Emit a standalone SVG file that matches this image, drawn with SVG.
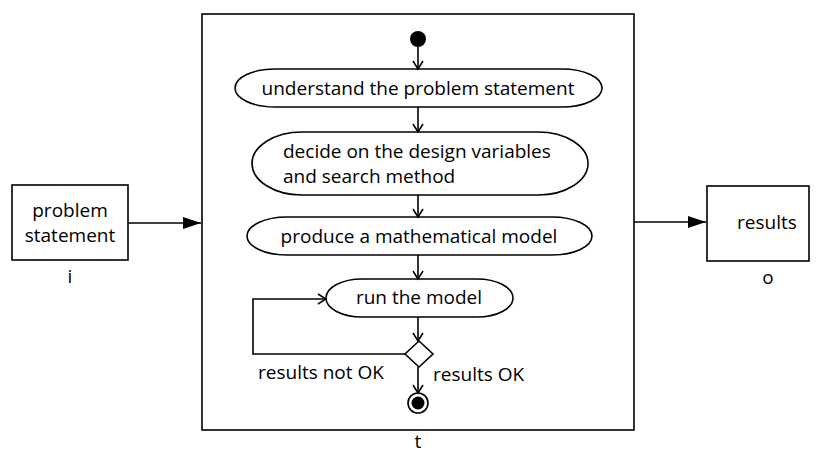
<svg xmlns="http://www.w3.org/2000/svg" width="816" height="456" viewBox="0 0 816 456">
<style>
text{font-family:"Open Sans","Liberation Sans",Arial,sans-serif;font-size:19px;fill:#000}
.c{text-anchor:middle}
.box{fill:#fff;stroke:#000;stroke-width:1.6}
.act{fill:#fff;stroke:#000;stroke-width:1.6}
.ln{fill:none;stroke:#000;stroke-width:1.6}
</style>
<defs>
<marker id="open" markerWidth="12" markerHeight="12" refX="10" refY="6" orient="auto" markerUnits="userSpaceOnUse">
<path d="M2,1 L10,6 L2,11" fill="none" stroke="#000" stroke-width="1.5"/>
</marker>
<marker id="solid" markerWidth="20" markerHeight="14" refX="18" refY="7" orient="auto" markerUnits="userSpaceOnUse">
<path d="M0,1 L18,7 L0,13 Z" fill="#000"/>
</marker>
</defs>
<g id="main">
<rect class="box" x="202" y="14" width="432" height="416"/>
<text class="c" x="418" y="448">t</text>
</g>
<g id="input">
<rect class="box" x="12" y="185" width="116" height="75"/>
<text class="c" x="70" y="217">problem</text>
<text class="c" x="70" y="242">statement</text>
<text class="c" x="70" y="283">i</text>
</g>
<g id="output">
<rect class="box" x="707" y="186" width="102" height="75"/>
<text class="c" x="767" y="229">results</text>
<text class="c" x="768" y="284">o</text>
</g>
<g id="start"><circle cx="418" cy="39" r="8" fill="#000"/></g>
<g id="a1">
<rect class="act" x="235" y="69" width="367" height="38" rx="40" ry="19"/>
<text class="c" x="418" y="95">understand the problem statement</text>
</g>
<g id="a2">
<rect class="act" x="252" y="132" width="336" height="63" rx="50" ry="31.5"/>
<text x="283" y="158">decide on the design variables</text>
<text x="283" y="183">and search method</text>
</g>
<g id="a3">
<rect class="act" x="247" y="217" width="345" height="38" rx="40" ry="19"/>
<text class="c" x="419" y="243">produce a mathematical model</text>
</g>
<g id="a4">
<rect class="act" x="326" y="279" width="187" height="38" rx="36" ry="19"/>
<text class="c" x="419" y="304">run the model</text>
</g>
<g id="decision">
<polygon class="act" points="419,341 433,354 419,367 405,354"/>
</g>
<g id="end">
<circle cx="418" cy="403" r="10" fill="#fff" stroke="#000" stroke-width="1.6"/>
<circle cx="418" cy="403" r="6.5" fill="#000"/>
</g>
<g id="connectors">
<line class="ln" x1="128" y1="223" x2="201" y2="223" marker-end="url(#solid)"/>
<line class="ln" x1="634" y1="222" x2="706" y2="222" marker-end="url(#solid)"/>
<line class="ln" x1="418" y1="47" x2="418" y2="69" marker-end="url(#open)"/>
<line class="ln" x1="418" y1="107" x2="418" y2="132" marker-end="url(#open)"/>
<line class="ln" x1="418" y1="195" x2="418" y2="217" marker-end="url(#open)"/>
<line class="ln" x1="418" y1="255" x2="418" y2="279" marker-end="url(#open)"/>
<line class="ln" x1="418" y1="317" x2="418" y2="341" marker-end="url(#open)"/>
<line class="ln" x1="418" y1="367" x2="418" y2="393" marker-end="url(#open)"/>
<polyline class="ln" points="405,354 253,354 253,299 326,299" marker-end="url(#open)"/>
<text x="258" y="379">results not OK</text>
<text x="433" y="381">results OK</text>
</g>
</svg>
